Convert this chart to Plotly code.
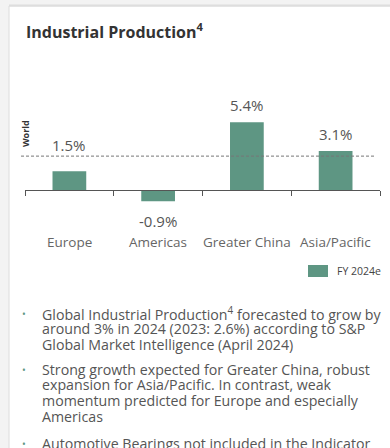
import plotly.graph_objects as go

W, H = 390, 448

categories = ["Europe", "Americas", "Greater China", "Asia/Pacific"]
values = [1.5, -0.9, 5.4, 3.1]
world_value = 2.7
series_name = "FY 2024e"
title_text = "Industrial Production<sup>4</sup>"
bullets = [
    ["Global Industrial Production<sup>4</sup> forecasted to grow by",
     "around 3% in 2024 (2023: 2.6%) according to S&P",
     "Global Market Intelligence (April 2024)"],
    ["Strong growth expected for Greater China, robust",
     "expansion for Asia/Pacific. In contrast, weak",
     "momentum predicted for Europe and especially",
     "Americas"],
    ["Automotive Bearings not included in the Indicator"],
]

BAR = "#5e9683"
FONT = "Open Sans"

def py(p):  # pixel y -> paper y
    return 1 - p / H

def px(p):
    return p / W

# plot area geometry (pixels)
top_px, bot_px, zero_px, ppu = 80, 230, 190, 12.55
y_range = [-(bot_px - zero_px) / ppu, (zero_px - top_px) / ppu]

fig = go.Figure()
fig.add_trace(go.Bar(
    x=categories, y=values, marker=dict(color=BAR, line=dict(width=0)),
    width=0.38, name=series_name, showlegend=False, hoverinfo="skip",
))

annotations = []
shapes = []

# card background
shapes.append(dict(type="rect", xref="paper", yref="paper", x0=px(9), x1=px(W + 5),
                   y0=py(H + 5), y1=py(6), fillcolor="white",
                   line=dict(color="#dcdcdc", width=1), layer="below"))
shapes.append(dict(type="line", xref="paper", yref="paper", x0=px(9), x1=px(W + 5),
                   y0=py(5.5), y1=py(5.5), line=dict(color="#dedede", width=2), layer="below"))

# title
annotations.append(dict(text=title_text, xref="paper", yref="paper", x=px(24), y=py(31),
                        xanchor="left", yanchor="middle", showarrow=False,
                        font=dict(family=FONT, size=16, color="#333333", weight="bold")))

# world line
shapes.append(dict(type="line", xref="paper", yref="y", x0=px(21), x1=px(375),
                   y0=world_value, y1=world_value,
                   line=dict(color="#777777", width=1, dash="3px,2px")))
annotations.append(dict(text="World", xref="paper", yref="y", x=px(25), y=world_value,
                        yshift=23, textangle=-90, xanchor="center", yanchor="middle",
                        showarrow=False,
                        font=dict(family=FONT, size=9, color="#333333", weight="bold")))

# value labels
for c, v in zip(categories, values):
    if v < 0:
        annotations.append(dict(text=f"{v:.1f}%", x=c, y=v, xref="x", yref="y",
                                yanchor="top", yshift=-8, showarrow=False,
                                font=dict(family=FONT, size=15, color="#555555")))
    else:
        base = max(v, world_value)
        shift = -1 if v < world_value else 5
        annotations.append(dict(text=f"{v:.1f}%", x=c, y=base, xref="x", yref="y",
                                yanchor="bottom", yshift=shift, showarrow=False,
                                font=dict(family=FONT, size=15, color="#555555")))
    annotations.append(dict(text=c, x=c, y=py(242), xref="x", yref="paper",
                            yanchor="middle", showarrow=False,
                            font=dict(family=FONT, size=13.5, color="#666666")))

# legend
shapes.append(dict(type="rect", xref="paper", yref="paper", x0=px(308), x1=px(328),
                   y0=py(277), y1=py(265), fillcolor=BAR, line=dict(width=0)))
annotations.append(dict(text=series_name, xref="paper", yref="paper", x=px(335), y=py(271),
                        xanchor="left", yanchor="middle", showarrow=False,
                        font=dict(family=FONT, size=10.5, color="#444444")))

# bullets
starts = [313, 369, 443]
lh = 15.8
for b, y0 in zip(bullets, starts):
    annotations.append(dict(text="•", xref="paper", yref="paper", x=px(24), y=py(y0 + 1),
                            xanchor="center", yanchor="middle", showarrow=False,
                            font=dict(family=FONT, size=10, color=BAR)))
    for i, line in enumerate(b):
        annotations.append(dict(text=line, xref="paper", yref="paper", x=px(40),
                                y=py(y0 + i * lh), xanchor="left", yanchor="middle",
                                showarrow=False,
                                font=dict(family=FONT, size=14.2, color="#555555")))

fig.update_layout(
    width=W, height=H, margin=dict(l=0, r=0, t=0, b=0),
    paper_bgcolor="#f3f3f3", plot_bgcolor="rgba(0,0,0,0)",
    font=dict(family=FONT),
    bargap=0.62,
    xaxis=dict(domain=[px(25), px(380)], range=[-0.5, 3.5], anchor="free",
               position=py(zero_px), showline=True, linecolor="#555555", linewidth=1,
               ticks="outside", tickson="boundaries", ticklen=5, tickcolor="#555555",
               showticklabels=False, showgrid=False, zeroline=False, fixedrange=True),
    yaxis=dict(domain=[py(bot_px), py(top_px)], range=y_range, visible=False,
               showgrid=False, zeroline=False, fixedrange=True),
    shapes=shapes, annotations=annotations,
)

fig.write_html("out.html")
